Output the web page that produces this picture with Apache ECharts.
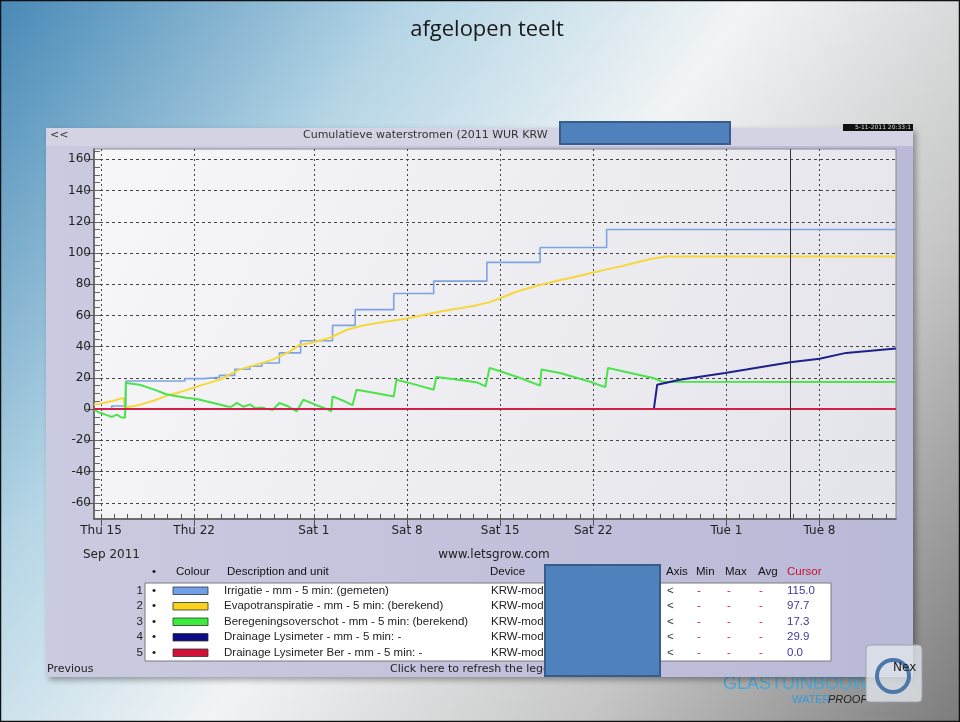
<!DOCTYPE html>
<html>
<head>
<meta charset="utf-8">
<script src="https://cdn.jsdelivr.net/npm/echarts@6/dist/echarts.min.js"></script>
<style>
  html, body { margin: 0; padding: 0; }
  #chart { width: 960px; height: 722px; }
</style>
</head>
<body>
<div id="chart"></div>
<script>
// x is days since Thu 15 Sep 2011
var xMin = -0.53;
var xMax = 59.75;
var yMin = -70.4;
var yMax = 166.6;
var cursorDay = 51.8;

var majorDays = [0, 7, 16, 23, 30, 37, 47, 54];
var majorLabels = ['Thu 15', 'Thu 22', 'Sat 1', 'Sat 8', 'Sat 15', 'Sat 22', 'Tue 1', 'Tue 8'];
var yTicks = [-60, -40, -20, 0, 20, 40, 60, 80, 100, 120, 140, 160];

var irrigatie = [[-0.53, 0], [0.8, 2], [1.86, 18], [6.3, 19.5], [7.7, 20.3], [8.9, 21.6],
  [10.05, 25.5], [11.2, 27.4], [12.1, 29.5], [13.4, 36], [15.0, 43.8], [17.4, 53.6],
  [19.1, 63.7], [22.0, 74], [25.0, 82], [29.0, 94], [33.0, 103.5], [38.0, 115], [59.75, 115]];

var evapotranspiratie = [[-0.53, 2.8], [0, 3.5], [0.5, 4.5], [1.0, 5.5], [1.5, 6.8], [1.7, 7.0],
  [1.8, 1.2], [2.5, 2.0], [3.0, 3.0], [4.0, 5.5], [4.9, 8.5], [6.0, 11], [6.9, 13.5],
  [8.0, 16.5], [8.9, 18.8], [10.4, 25.3], [11.5, 28], [12.9, 31.7], [13.5, 34], [14.2, 37],
  [14.9, 41], [15.9, 42.6], [17.2, 45.7], [18.4, 50.5], [19.0, 52.1], [20.0, 54], [21.0, 55.5],
  [22.0, 56.8], [23.0, 58], [24.0, 59.8], [25.5, 62.5], [26.5, 64], [28.0, 66], [29.2, 68.5],
  [30.0, 71], [31.0, 74.5], [31.7, 76.5], [33.0, 79.5], [34.2, 82], [35.5, 84.5], [37.0, 87.5],
  [38.0, 89.5], [39.2, 91.7], [40.5, 94.5], [41.5, 96.5], [42.5, 97.7], [59.75, 97.7]];

var beregeningsoverschot = [[-0.53, 0], [-0.2, -2], [0.5, -4], [0.8, -5], [1.2, -3.5], [1.5, -5.2],
  [1.8, -5.5], [1.86, 16.7], [2.9, 15.6], [4.0, 12.5], [4.9, 9.5], [5.5, 8.5], [6.4, 7.3],
  [7.2, 6.5], [7.9, 5], [8.9, 3], [9.5, 1.7], [9.8, 1.5], [10.2, 4], [10.7, 1.5], [11.2, 3],
  [11.6, 0.5], [12.1, 1], [12.5, 0], [12.9, -0.5], [13.4, 3.9], [14.0, 2], [14.7, -1.5],
  [15.2, 6], [16.2, 2.5], [17.0, 0], [17.3, -1.5], [17.4, 8.1], [18.3, 5], [18.9, 2.5],
  [19.2, 12.4], [20.5, 10.5], [22.0, 8], [22.2, 18.8], [23.5, 16], [25.0, 12.4], [25.2, 20.6],
  [27.0, 18.6], [28.3, 17], [28.9, 14.5], [29.2, 26.4], [30.0, 24.2], [31.5, 19.9], [33.0, 15],
  [33.1, 25.3], [34.5, 23.1], [36.7, 17.7], [37.9, 14.1], [38.1, 26.4], [39.2, 24.2],
  [41.5, 19.9], [42.2, 17.5], [59.75, 17.3]];

var drainage = [[-0.53, 0], [41.55, 0], [41.8, 15.6], [43.5, 18.8], [46.9, 23.1], [48.5, 25.3],
  [51.8, 30], [54.0, 32.2], [56.0, 36], [59.75, 38.8]];

var drainageBer = [[-0.53, 0], [59.75, 0]];

var seriesNames = ['Irrigatie - mm - 5 min: (gemeten)', 'Evapotranspiratie - mm - 5 min: (berekend)',
  'Beregeningsoverschot - mm - 5 min: (berekend)', 'Drainage Lysimeter - mm - 5 min: -',
  'Drainage Lysimeter Ber - mm - 5 min: -'];
var cursorValues = ['115.0', '97.7', '17.3', '29.9', '0.0'];
var swatchColors = ['#6f9fe6', '#f8d21c', '#3cec3c', '#0c0c84', '#d21038'];

var allDays = [];
for (var d = 0; d <= 59; d++) allDays.push(d);
var minorY = [];
for (var v = -70; v <= 165; v += 5) minorY.push(v);

var chart = echarts.init(document.getElementById('chart'));

var font = 'DejaVu Sans';
var tableFont = 'Liberation Sans';

// legend table built from the arrays
var table = [];
var rowY = [590.5, 606, 621.5, 637, 652.5];
var headers = [['•', 152], ['Colour', 176], ['Description and unit', 227], ['Device', 490],
  ['Axis', 666], ['Min', 696], ['Max', 725], ['Avg', 758]];
headers.forEach(function (h) {
  table.push({ type: 'text', x: h[1], y: 572, style: { text: h[0], fill: '#111', font: '11.5px ' + tableFont, verticalAlign: 'middle' } });
});
table.push({ type: 'text', x: 787, y: 572, style: { text: 'Cursor', fill: '#c8102e', font: '11.5px ' + tableFont, verticalAlign: 'middle' } });
table.push({ type: 'rect', shape: { x: 145, y: 583, width: 686, height: 78 }, style: { fill: '#ffffff', stroke: '#7a7a7a', lineWidth: 1 } });
seriesNames.forEach(function (name, i) {
  var y = rowY[i];
  table.push({ type: 'text', x: 143, y: y, style: { text: String(i + 1), fill: '#222', font: '11.5px ' + tableFont, align: 'right', verticalAlign: 'middle' } });
  table.push({ type: 'text', x: 152, y: y, style: { text: '•', fill: '#111', font: '11.5px ' + tableFont, verticalAlign: 'middle' } });
  table.push({ type: 'rect', shape: { x: 173, y: y - 3.5, width: 35, height: 7.5 }, style: { fill: swatchColors[i], stroke: '#333', lineWidth: 0.8 } });
  table.push({ type: 'text', x: 224, y: y, style: { text: name, fill: '#222', font: '11.5px ' + tableFont, verticalAlign: 'middle' } });
  table.push({ type: 'text', x: 491, y: y, style: { text: 'KRW-mod', fill: '#222', font: '11.5px ' + tableFont, verticalAlign: 'middle' } });
  table.push({ type: 'text', x: 667, y: y, style: { text: '<', fill: '#333', font: '11.5px ' + tableFont, verticalAlign: 'middle' } });
  [697, 727, 759].forEach(function (x) {
    table.push({ type: 'text', x: x, y: y, style: { text: '-', fill: '#d01848', font: '11.5px ' + tableFont, verticalAlign: 'middle' } });
  });
  table.push({ type: 'text', x: 787, y: y, style: { text: cursorValues[i], fill: '#3a3a9c', font: '11.5px ' + tableFont, verticalAlign: 'middle' } });
});

var graphics = [
  // slide title
  { type: 'text', x: 487, y: 30, z: -5, style: { text: 'afgelopen teelt', fill: '#1a1a1a', font: '22px "Open Sans"', align: 'center', verticalAlign: 'middle' } },
  // logo, partly behind the panel
  { type: 'text', x: 723, y: 684, z: -5, style: { text: 'GLASTUINBOUW', fill: '#4aa8d8', font: '18px "Liberation Sans"', verticalAlign: 'middle' } },
  { type: 'text', x: 792, y: 700, z: -5, style: { text: 'WATER', fill: '#3a9ad8', font: '11px "Liberation Sans"', verticalAlign: 'middle' } },
  { type: 'text', x: 828, y: 700, z: -5, style: { text: 'PROOF', fill: '#222', font: 'italic 11px "Liberation Sans"', verticalAlign: 'middle' } },
  { type: 'text', x: 862, y: 714, z: -5, style: { text: 'grondgebonden', fill: '#888', font: 'italic 8px "Liberation Sans"', verticalAlign: 'middle' } },
  // screenshot panel
  {
    type: 'rect', z: -2, shape: { x: 46, y: 128, width: 867, height: 549 },
    style: {
      fill: new echarts.graphic.LinearGradient(0, 0, 1, 0, [
        { offset: 0, color: '#cacae0' }, { offset: 1, color: '#b9b9d8' }
      ]),
      shadowBlur: 6, shadowColor: 'rgba(0,0,0,0.35)', shadowOffsetX: 3, shadowOffsetY: 3
    }
  },
  { type: 'rect', z: -1, shape: { x: 46, y: 128, width: 867, height: 18 }, style: { fill: '#d3d3e3' } },
  // logo icon sits over the panel corner
  { type: 'rect', z: 1, shape: { x: 866, y: 645, width: 56, height: 57, r: 4 }, style: { fill: 'rgba(225,230,236,0.8)', stroke: '#9aa4ae', lineWidth: 1 } },
  { type: 'circle', z: 1, shape: { cx: 893, cy: 676, r: 16 }, style: { fill: 'none', stroke: '#4b78a8', lineWidth: 4 } },
  { type: 'text', x: 50, y: 135, style: { text: '<<', fill: '#333', font: '11px "DejaVu Sans"', verticalAlign: 'middle' } },
  { type: 'text', x: 303, y: 135, style: { text: 'Cumulatieve waterstromen (2011 WUR KRW', fill: '#333', font: '11px "DejaVu Sans"', verticalAlign: 'middle' } },
  { type: 'rect', shape: { x: 843, y: 124, width: 70, height: 7 }, style: { fill: '#111' } },
  { type: 'text', x: 911, y: 127.5, style: { text: '5-11-2011 20:33:1', fill: '#ddd', font: '6px "DejaVu Sans"', align: 'right', verticalAlign: 'middle' } },
  { type: 'text', x: 83, y: 555, style: { text: 'Sep 2011', fill: '#222', font: '12px "DejaVu Sans"', verticalAlign: 'middle' } },
  { type: 'text', x: 494, y: 555, style: { text: 'www.letsgrow.com', fill: '#222', font: '12px "DejaVu Sans"', align: 'center', verticalAlign: 'middle' } },
  { type: 'text', x: 47, y: 669, style: { text: 'Previous', fill: '#222', font: '11px "DejaVu Sans"', verticalAlign: 'middle' } },
  { type: 'text', x: 390, y: 669, style: { text: 'Click here to refresh the legend', fill: '#222', font: '11px "DejaVu Sans"', verticalAlign: 'middle' } },
  { type: 'text', x: 893, y: 668, z: 2, style: { text: 'Nex', fill: '#222', font: '12px "DejaVu Sans"', verticalAlign: 'middle' } }
].concat(table).concat([
  // redaction boxes
  { type: 'rect', z: 50, shape: { x: 560, y: 122, width: 170, height: 22 }, style: { fill: '#4f81bd', stroke: '#385d8a', lineWidth: 2 } },
  { type: 'rect', z: 50, shape: { x: 545, y: 565, width: 115, height: 111 }, style: { fill: '#4f81bd', stroke: '#385d8a', lineWidth: 2 } },
  // slide frame
  { type: 'rect', z: 60, shape: { x: 0.5, y: 0.5, width: 959, height: 721 }, style: { fill: 'none', stroke: '#111', lineWidth: 1.5 } }
]);

function lineSeries(name, data, color, width, extra) {
  var s = {
    name: name, type: 'line', data: data, showSymbol: false, animation: false,
    xAxisIndex: 0, yAxisIndex: 0,
    lineStyle: { color: color, width: width }, itemStyle: { color: color }
  };
  return Object.assign(s, extra || {});
}

var option = {
  backgroundColor: new echarts.graphic.LinearGradient(0, 0, 1, 1, [
    { offset: 0, color: '#4889b6' },
    { offset: 0.28, color: '#b6d6e6' },
    { offset: 0.5, color: '#f1f4f5' },
    { offset: 0.75, color: '#c6c6c6' },
    { offset: 1, color: '#7c7c7c' }
  ]),
  animation: false,
  grid: {
    left: 94, top: 149, width: 802, height: 370,
    show: true, borderColor: '#8a8a8a', borderWidth: 1,
    backgroundColor: new echarts.graphic.LinearGradient(0, 0, 1, 1, [
      { offset: 0, color: '#f7f7f9' }, { offset: 1, color: '#e3e3ea' }
    ])
  },
  xAxis: [
    {
      type: 'value', min: xMin, max: xMax, position: 'bottom',
      axisLine: { show: true, onZero: false, lineStyle: { color: '#555', width: 1.5 } },
      axisTick: { show: true, customValues: majorDays, length: 7, lineStyle: { color: '#555' } },
      axisLabel: {
        customValues: majorDays, color: '#222', fontSize: 12, fontFamily: font, margin: 6,
        formatter: function (val) { return majorLabels[majorDays.indexOf(val)] || ''; }
      },
      splitLine: { show: true, lineStyle: { color: '#444', type: [2, 3], width: 1 } }
    },
    {
      type: 'value', min: xMin, max: xMax, position: 'bottom',
      axisLine: { show: false, onZero: false },
      axisTick: { show: true, inside: true, customValues: allDays, length: 5, lineStyle: { color: '#555' } },
      axisLabel: { show: false },
      splitLine: { show: false }
    }
  ],
  yAxis: [
    {
      type: 'value', min: yMin, max: yMax, position: 'left',
      axisLine: { show: true, onZero: false, lineStyle: { color: '#555', width: 1.5 } },
      axisTick: { show: true, customValues: yTicks, length: 8, lineStyle: { color: '#555' } },
      axisLabel: { customValues: yTicks, color: '#222', fontSize: 12, fontFamily: font, margin: 3 },
      splitLine: { show: true, lineStyle: { color: '#444', type: [3, 3], width: 1 } }
    },
    {
      type: 'value', min: yMin, max: yMax, position: 'left',
      axisLine: { show: false, onZero: false },
      axisTick: { show: true, inside: true, customValues: minorY, length: 6, lineStyle: { color: '#666' } },
      axisLabel: { show: false },
      splitLine: { show: false }
    }
  ],
  series: [
    lineSeries(seriesNames[0], irrigatie, '#7da3e2', 1.6, { step: 'end' }),
    lineSeries(seriesNames[1], evapotranspiratie, '#f6d83a', 2),
    lineSeries(seriesNames[2], beregeningsoverschot, '#4ae44a', 2),
    lineSeries(seriesNames[3], drainage, '#20208c', 2),
    lineSeries(seriesNames[4], drainageBer, '#d0204a', 2, {
      markLine: {
        silent: true, symbol: 'none', label: { show: false },
        lineStyle: { color: '#333', width: 1, type: 'solid' },
        data: [{ xAxis: cursorDay }]
      }
    })
  ],
  graphic: graphics
};

chart.setOption(option);
</script>
</body>
</html>
